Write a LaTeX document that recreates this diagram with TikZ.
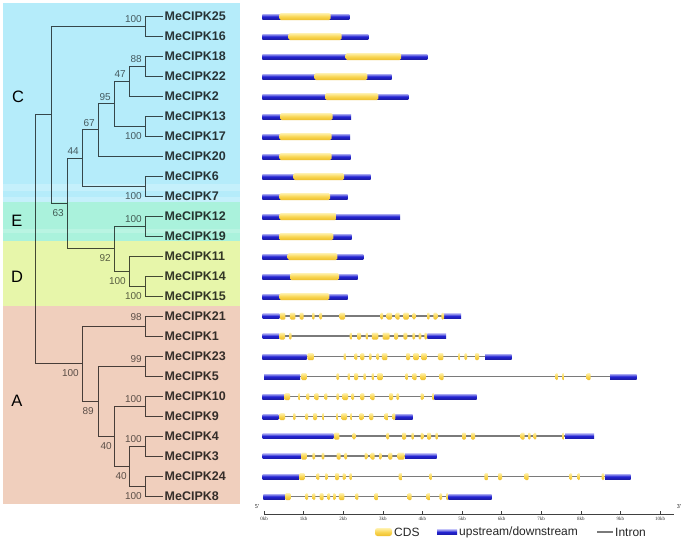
\documentclass[tikz,border=0pt]{standalone}
\usepackage{fontspec}
\setmainfont{Liberation Sans}
\newfontfamily\tickfont{Liberation Serif}
\definecolor{bandC}{HTML}{B5ECFA}
\definecolor{bandE}{HTML}{AAF2DC}
\definecolor{bandD}{HTML}{E7F6AA}
\definecolor{bandA}{HTML}{F0CFBD}
\definecolor{utrT}{HTML}{A8A8F2}
\definecolor{utrM}{HTML}{2222D2}
\definecolor{utrB}{HTML}{1C1CA8}
\definecolor{cdsT}{HTML}{FFF2B0}
\definecolor{cdsM}{HTML}{F9D653}
\definecolor{cdsB}{HTML}{EEBE2A}
\definecolor{intronC}{HTML}{7A7A7A}
\newcommand\simplegene[4]{%
  \path[utr] (262.3,#1-2.5) rectangle (#4,#1+2.5);
  \path[cds] (#2,#1-3.5) rectangle (#3,#1+3.5);}
\newcommand\complexgene[6]{%
  \draw[intron] (#3,#1) -- (#4,#1);
  \path[utr] (#2,#1-2.5) rectangle (#3,#1+2.5);
  \path[utr] (#4,#1-2.5) rectangle (#5,#1+2.5);
  \foreach \ex/\ew in {#6} {\path[exon] (\ex-\ew/2,#1-3.5) rectangle (\ex+\ew/2,#1+3.5);}}
\begin{document}
\begin{tikzpicture}[x=1pt,y=-1pt,
  leaf/.style={anchor=west,inner sep=1.5pt,font=\fontsize{12.5}{14}\selectfont\bfseries,text=black,text opacity=0.78},
  bs/.style={inner sep=0pt,anchor=base east,font=\fontsize{10}{12}\selectfont,text=black,text opacity=0.62},
  clade/.style={font=\fontsize{16.5}{18}\selectfont,inner sep=0pt},
  br/.style={draw=black,draw opacity=0.7,line width=0.8pt},
  utr/.style={top color=utrT,bottom color=utrB,middle color=utrM},
  cds/.style={top color=cdsT,bottom color=cdsB,middle color=cdsM,rounded corners=1.5pt},
  exon/.style={top color=cdsT,bottom color=cdsB,middle color=cdsM,rounded corners=1.2pt},
  intron/.style={draw=intronC,line width=1.1pt},
  legtext/.style={anchor=west,inner sep=1pt,font=\fontsize{12}{14}\selectfont,text=black!85},
  tick/.style={inner sep=0pt,anchor=north,font=\tickfont\fontsize{5}{6}\selectfont,text=black!80}]
\useasboundingbox (0,0) rectangle (684,541);
\fill[white] (0,0) rectangle (684,541);
% clade bands
\fill[bandC] (3,3) rectangle (240,202);
\fill[bandE] (3,202) rectangle (240,241);
\fill[bandD] (3,241) rectangle (240,306);
\fill[bandA] (3,306) rectangle (240,504);
\fill[white,opacity=0.22] (3,184) rectangle (240,191);
\fill[white,opacity=0.22] (3,197) rectangle (240,202);
\fill[white,opacity=0.18] (3,229) rectangle (240,233);
\node[clade] (cC) at (18,97) {C};
\node[clade] (cE) at (17,221) {E};
\node[clade] (cD) at (17,277) {D};
\node[clade] (cA) at (17,401) {A};
% leaves
\foreach \n [count=\i from 0] in {MeCIPK25,MeCIPK16,MeCIPK18,MeCIPK22,MeCIPK2,MeCIPK13,MeCIPK17,MeCIPK20,MeCIPK6,MeCIPK7,MeCIPK12,MeCIPK19,MeCIPK11,MeCIPK14,MeCIPK15,MeCIPK21,MeCIPK1,MeCIPK23,MeCIPK5,MeCIPK10,MeCIPK9,MeCIPK4,MeCIPK3,MeCIPK24,MeCIPK8}
  \node[leaf] (l\i) at (163,16+20*\i) {\n};
% internal nodes
\coordinate (n2516) at (145,26);
\coordinate (n1822) at (145,66);
\coordinate (n47) at (129,81);
\coordinate (n1317) at (145,126);
\coordinate (n95) at (114,103.5);
\coordinate (n67) at (98,129.75);
\coordinate (n0607) at (145,186);
\coordinate (n44) at (82,157.9);
\coordinate (n1219) at (145,226);
\coordinate (n1415) at (145,286);
\coordinate (n11) at (129,271);
\coordinate (n92) at (114,248.5);
\coordinate (n63) at (67,203.2);
\coordinate (nC) at (51,114.6);
\coordinate (n2101) at (145,326);
\coordinate (n2305) at (145,366);
\coordinate (n1009) at (145,406);
\coordinate (n0403) at (145,446);
\coordinate (n2408) at (145,486);
\coordinate (nA4) at (129,466);
\coordinate (nA3) at (114,436);
\coordinate (nA2) at (98,401);
\coordinate (nA1) at (82,363.5);
\coordinate (root) at (35.7,239);
% branches
\foreach \p/\c in {root/nC,root/nA1,nC/n2516,nC/n63,n63/n44,n63/n92,n44/n67,n44/n0607,n67/n95,n95/n47,n95/n1317,n47/n1822,n92/n1219,n92/n11,n11/n1415,nA1/n2101,nA1/nA2,nA2/n2305,nA2/nA3,nA3/n1009,nA3/nA4,nA4/n0403,nA4/n2408}
  \draw[br] (\p) |- (\c);
\foreach \p/\c in {n2516/0,n2516/1,n1822/2,n1822/3,n47/4,n1317/5,n1317/6,n67/7,n0607/8,n0607/9,n1219/10,n1219/11,n11/12,n1415/13,n1415/14,n2101/15,n2101/16,n2305/17,n2305/18,n1009/19,n1009/20,n0403/21,n0403/22,n2408/23,n2408/24}
  \draw[br] (\p) |- (l\c.west);
% bootstrap values
\node[bs] (b1) at (142,22.5) {100};
\node[bs] (b2) at (142,62.5) {88};
\node[bs] (b3) at (126,77.5) {47};
\node[bs] (b4) at (142,139) {100};
\node[bs] (b5) at (111,100) {95};
\node[bs] (b6) at (95,126.3) {67};
\node[bs] (b7) at (142,199) {100};
\node[bs] (b8) at (79,154.4) {44};
\node[bs] (b9) at (64,216.2) {63};
\node[bs] (b10) at (142,222.5) {100};
\node[bs] (b11) at (111,261.5) {92};
\node[bs] (b12) at (126,284.5) {100};
\node[bs] (b13) at (142,299) {100};
\node[bs] (b14) at (142,320) {98};
\node[bs] (b15) at (142,362.5) {99};
\node[bs] (b16) at (94,414) {89};
\node[bs] (b17) at (79,376.5) {100};
\node[bs] (b18) at (142,402.5) {100};
\node[bs] (b19) at (112,449) {40};
\node[bs] (b20) at (127,479.5) {40};
\node[bs] (b21) at (142,442.5) {100};
\node[bs] (b22) at (142,499) {100};
% simple gene structures
\foreach \i/\a/\b/\e in {0/279.3/330.7/349.3,1/288.3/341.7/368.3,2/345.7/401/427.3,3/314.3/367.3/391.7,4/325/378.3/408.3,5/280/332.7/351,6/279.3/331.7/350,7/279.3/331.7/350.7,8/293.3/344/370.7,9/279.3/330/347.7,10/279.3/336.7/400,11/279/333.3/351.7,12/287.7/337.3/363.3,13/290/339/357.7,14/279.3/329.3/347.7}
  {\simplegene{16.5+20*\i}{\a}{\b}{\e}}
% intron-rich gene structures
\complexgene{316}{262.7}{279.3}{443.3}{461}{282.7/5.5,292.7/5.5,301.7/4,313.3/2.6,320.7/2.6,342.3/5.5,381.7/2.6,389.3/5.5,397.7/4,406/5.5,414/2.6,428.3/2.6,435.3/4,442.7/2.6}
\complexgene{336}{262.7}{279.3}{427.3}{446}{282.3/5.5,290.3/2.6,351/2.6,359/4,367/2.6,375/6.5,386/7,396/4,405.3/4,413.7/2.6,420/2.6,425.7/2.6}
\complexgene{356.5}{262.3}{306.7}{485}{511.7}{310.7/6.5,345/2.6,356/2.6,362.3/4,370.3/2.6,377.7/2.6,384.7/5.5,408/4,416/5.5,424/5.5,440.7/5.5,459.3/2.6,465.7/2.6,477/4}
\complexgene{376.5}{264}{300}{610}{636.7}{304/5.5,337.7/2.6,349/2.6,356/4,364.7/2.6,373/2.6,380/5.5,406.7/2.6,414.7/4,423/5.5,441.7/4,556.7/2.6,563.3/2.6,588.7/4}
\complexgene{396.5}{262.3}{284}{434.3}{476.7}{287.3/5.5,299.3/2.6,308/2.6,316.7/4,326/2.6,337.7/2.6,345.3/5.5,352.7/2.6,362.3/4,372.7/4,391/4,397.7/2.6,422/2.6,433.3/2.6}
\complexgene{416.5}{262.7}{278.3}{395}{412.7}{282.3/5.5,294.3/2.6,306.7/2.6,315/4,323.3/2.6,337.3/2.6,344.3/5.5,351.3/2.6,361.3/4,371.3/4,386.7/4,394/2.6}
\complexgene{436}{262.7}{333.3}{565}{594}{336.7/5.5,354/2.6,387.7/2.6,404/4,412.7/2.6,422/2.6,429/4,436.7/2.6,464/4,473/4,522.7/4,529.3/2.6,535/2.6,563.3/2.6}
\complexgene{456}{262.7}{301}{405}{436.7}{304/5.5,313.7/2.6,323/2.6,338.7/4,345.7/2.6,366/2.6,372.7/4,380.3/2.6,390.3/4,401/7}
\complexgene{476.5}{262.7}{299}{605}{630.7}{302/5.5,318/2.6,326.3/2.6,337/4,344/2.6,350.7/2.6,400.7/4,430.7/2.6,486.3/4,500/4,526.7/4,570.7/2.6,578.7/2.6,603/2.6}
\complexgene{496.5}{263.3}{285}{448.3}{491.7}{288/5.5,306.7/2.6,314/2.6,321.7/4,328.7/2.6,334.3/2.6,341.7/5.5,357/2.6,376.3/4,409.7/4,428.7/4,440.7/2.6,447.3/2.6}
% axis
\coordinate (axL) at (264,514);
\coordinate (axR) at (674,514);
\draw[black!75,line width=0.7pt] (axL) -- (axR);
\foreach \k in {0,...,10}
  {\draw[black!75,line width=0.6pt] (264+39.6*\k,514) -- (264+39.6*\k,511);
   \node[tick] (t\k) at (264+39.6*\k,517) {\k kb};}
\node[inner sep=0pt,font=\tickfont\fontsize{6}{7}\selectfont] (p5) at (257,507) {5'};
\node[inner sep=0pt,font=\tickfont\fontsize{6}{7}\selectfont] (p3) at (679,507) {3'};
% legend
\path[cds,rounded corners=2.5pt] (375,528) rectangle (392,536);
\node[legtext] (lg1) at (393,532) {CDS};
\path[utr] (437,529.5) rectangle (457,534.5);
\node[legtext] (lg2) at (458,532) {upstream/downstream};
\draw[intron] (597,532) -- (613,532);
\node[legtext] (lg3) at (614,532) {Intron};
\end{tikzpicture}
\end{document}
